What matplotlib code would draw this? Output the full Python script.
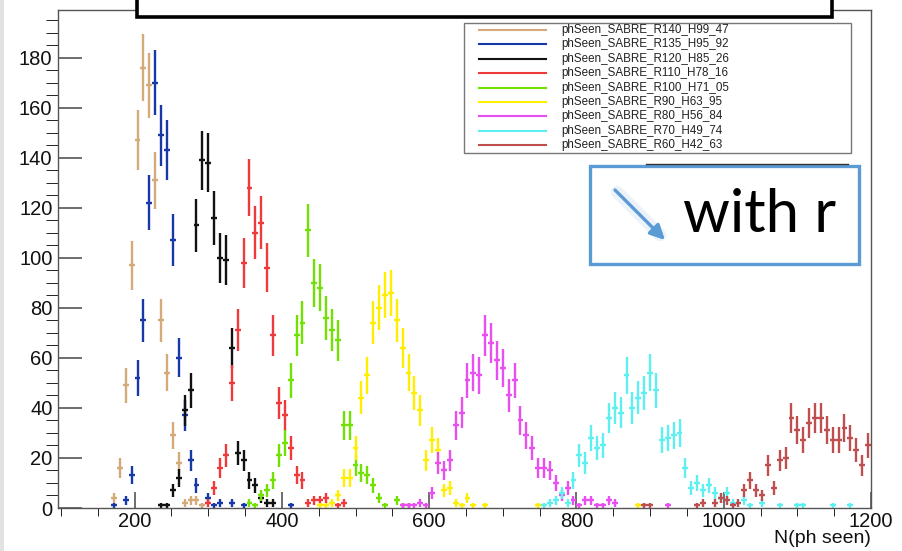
import numpy as np
import matplotlib
matplotlib.use("Agg")
import matplotlib.pyplot as plt
from matplotlib.patches import Rectangle
from matplotlib.ticker import MultipleLocator

W, H = 902, 551
BIN_W = 8

labels = [
    "phSeen_SABRE_R140_H99_47",
    "phSeen_SABRE_R135_H95_92",
    "phSeen_SABRE_R120_H85_26",
    "phSeen_SABRE_R110_H78_16",
    "phSeen_SABRE_R100_H71_05",
    "phSeen_SABRE_R90_H63_95",
    "phSeen_SABRE_R80_H56_84",
    "phSeen_SABRE_R70_H49_74",
    "phSeen_SABRE_R60_H42_63",
]
colors = ["#d4aa78", "#1838a8", "#111111", "#ee3a3a", "#72e000",
          "#ffee00", "#e84ef0", "#5ef0f0", "#bf4f4f"]

# bin centres and entries for each radius
r140_x = [172, 180, 188, 196, 204, 212, 220, 228, 236, 244, 252, 260, 268, 276, 284, 292]
r140_n = [4, 16, 49, 97, 147, 176, 169, 131, 75, 54, 29, 18, 2, 3, 3, 1]

r135_x = [172, 188, 196, 204, 212, 220, 228, 236, 244, 252, 260, 268, 276, 284, 300,
          308, 316, 332, 348, 412]
r135_n = [1, 3, 13, 52, 75, 122, 170, 149, 143, 107, 60, 37, 19, 9, 4, 1, 2, 2, 1, 1]

r120_x = [236, 244, 252, 260, 268, 276, 284, 292, 300, 308, 316, 324, 332, 340, 348,
          356, 364, 372, 380, 388]
r120_n = [1, 1, 7, 12, 39, 47, 113, 139, 138, 116, 100, 99, 64, 22, 19, 11, 9, 4, 2, 2]

r110_x = [300, 308, 316, 324, 332, 340, 348, 356, 364, 372, 380, 388, 396, 404, 412,
          420, 428, 436, 444, 452, 460, 476, 484]
r110_n = [2, 8, 16, 21, 50, 71, 98, 128, 110, 114, 96, 69, 42, 37, 24, 13, 11, 2, 3,
          3, 4, 1, 2]

r100_x = [356, 364, 372, 380, 388, 396, 404, 412, 420, 428, 436, 444, 452, 460, 468,
          476, 484, 492, 500, 508, 516, 524, 532, 540, 556, 564, 572]
r100_n = [2, 1, 5, 7, 11, 21, 26, 51, 69, 74, 111, 90, 88, 76, 71, 67, 33, 33, 17, 14,
          13, 9, 4, 1, 3, 1, 1]

r90_x = [452, 460, 468, 476, 484, 492, 500, 508, 516, 524, 532, 540, 548, 556, 564,
         572, 580, 588, 596, 604, 612, 620, 628, 636, 644, 652, 660, 676, 748, 884]
r90_n = [1, 1, 2, 5, 12, 12, 24, 44, 53, 74, 80, 85, 86, 75, 64, 54, 46, 39, 19, 27,
         23, 7, 8, 2, 1, 4, 1, 1, 1, 1]

r80_x = [564, 572, 580, 588, 596, 604, 612, 620, 628, 636, 644, 652, 660, 668, 676,
         684, 692, 700, 708, 716, 724, 732, 740, 748, 756, 764, 772, 780, 788, 796,
         804, 812, 820, 828, 836, 844, 852, 924]
r80_n = [1, 1, 1, 2, 1, 6, 18, 15, 19, 33, 38, 51, 54, 53, 69, 66, 59, 56, 45, 51,
         35, 29, 24, 16, 16, 15, 10, 5, 8, 3, 1, 3, 3, 1, 1, 3, 2, 1]

r70_x = [756, 764, 772, 780, 788, 796, 804, 812, 820, 828, 836, 844, 852, 860, 868,
         876, 884, 892, 900, 908, 916, 924, 932, 940, 948, 956, 964, 972, 980, 988,
         996, 1004, 1012, 1028, 1036, 1052, 1076, 1100, 1108, 1148, 1172]
r70_n = [1, 2, 3, 6, 2, 11, 21, 18, 28, 24, 25, 36, 40, 38, 53, 40, 44, 46, 54, 47,
         27, 28, 29, 30, 16, 8, 10, 7, 9, 6, 4, 6, 2, 3, 1, 2, 1, 1, 1, 1, 1]

r60_x = [892, 900, 964, 972, 988, 996, 1004, 1012, 1020, 1028, 1036, 1044, 1052, 1060,
         1068, 1076, 1084, 1092, 1100, 1108, 1116, 1124, 1132, 1140, 1148, 1156, 1164,
         1172, 1180, 1188, 1196]
r60_n = [1, 1, 1, 2, 2, 4, 3, 1, 2, 7, 11, 7, 5, 17, 8, 19, 20, 36, 31, 27, 34, 36, 36,
         31, 27, 27, 32, 28, 23, 17, 25]

series = [(r140_x, r140_n), (r135_x, r135_n), (r120_x, r120_n), (r110_x, r110_n),
          (r100_x, r100_n), (r90_x, r90_n), (r80_x, r80_n), (r70_x, r70_n),
          (r60_x, r60_n)]

plt.rcParams["font.family"] = ["Liberation Sans", "DejaVu Sans"]

fig = plt.figure(figsize=(W / 100, H / 100), dpi=100)
fig.patch.set_facecolor("white")

# main histogram frame (pixel box 58..871 x 10..508)
ax = fig.add_axes([58 / W, (H - 508) / H, (871 - 58) / W, (508 - 10) / H])
for (x, n), c in zip(series, colors):
    n = np.asarray(n, dtype=float)
    ax.errorbar(x, n, xerr=BIN_W / 2, yerr=np.sqrt(n), fmt="none",
                ecolor=c, elinewidth=1.7, capsize=0)

ax.set_xlim(96, 1200)
ax.set_ylim(0, 199)
ax.xaxis.set_major_locator(MultipleLocator(200))
ax.xaxis.set_minor_locator(MultipleLocator(50))
ax.yaxis.set_major_locator(MultipleLocator(20))
ax.yaxis.set_minor_locator(MultipleLocator(5))
ax.tick_params(axis="both", direction="in", colors="#555555", labelcolor="#111111",
               labelsize=14.5, width=1.2)
ax.tick_params(axis="y", which="major", length=17, pad=4)
ax.tick_params(axis="y", which="minor", length=8.5)
ax.tick_params(axis="x", which="major", length=11.5, pad=3)
ax.tick_params(axis="x", which="minor", length=5.8)
for sp in ax.spines.values():
    sp.set_color("#555555")
    sp.set_linewidth(1)
ax.set_xlabel("N(ph seen)", fontsize=14, color="#111111", loc="right", labelpad=-1)

# overlay drawn in pixel coordinates
ov = fig.add_axes([0, 0, 1, 1], zorder=5)
ov.set_xlim(0, W)
ov.set_ylim(H, 0)
ov.axis("off")
ov.patch.set_visible(False)

ov.add_patch(Rectangle((0, 0), 4, H, facecolor="#e2e2e2", edgecolor="none"))

# title box cut off at the top edge
ov.add_patch(Rectangle((137, -30), 695, 46.5, facecolor="white",
                       edgecolor="black", linewidth=2.6))

# legend
ov.add_patch(Rectangle((464, 23), 387, 130, facecolor="white",
                       edgecolor="#777777", linewidth=1))
for i, (lab, c) in enumerate(zip(labels, colors)):
    yy = 30 + i * 14.4
    ov.plot([479, 546], [yy, yy], color=c, lw=1.5)
    ov.text(561, yy, lab, fontsize=8.4, va="center", ha="left", color="#222222")

ov.plot([646, 848], [164, 164], color="#333333", lw=1)

# annotation box
ov.add_patch(Rectangle((590, 166), 269, 98, facecolor="white",
                       edgecolor="#5b9bd5", linewidth=2.4))
ov.plot([617, 660], [192, 235], color="#5b9bd5", lw=9, alpha=0.12,
        solid_capstyle="round")
ov.annotate("", xy=(665, 240), xytext=(615, 190),
            arrowprops=dict(arrowstyle="-|>", color="#5b9bd5", lw=2.4,
                            mutation_scale=22, shrinkA=0, shrinkB=0))
ov.text(683, 232, "with r", fontsize=43, family=["Lato", "DejaVu Sans"],
        va="baseline", ha="left", color="black")

fig.savefig("out.png", dpi=100)
